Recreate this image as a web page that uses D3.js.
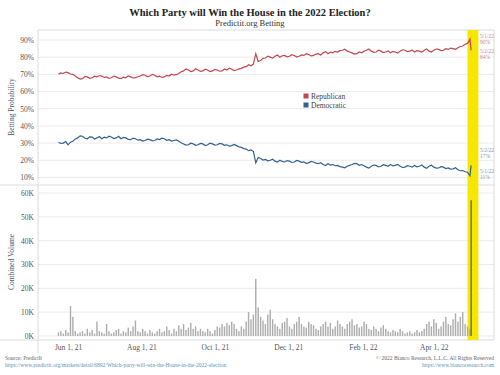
<!DOCTYPE html>
<html lang="en">
<head>
<meta charset="UTF-8">
<title>Which Party will Win the House in the 2022 Election?</title>
<script src="https://d3js.org/d3.v7.min.js"></script>
<style>
  body { margin: 0; background: #fff; }
  svg { display: block; font-family: "Liberation Serif", "DejaVu Serif", serif; }
  .grid line { stroke: #ececec; stroke-width: 1; }
  .frame line { stroke: #dcdcdc; stroke-width: 1; }
  .axis text { fill: #555; font-size: 7.5px; font-family: "Liberation Serif", serif; }
  .axis path, .axis line { display: none; }
  .note { font-size: 5.5px; }
</style>
</head>
<body>
<svg width="500" height="375"></svg>
<script>
// betting probabilities (%), every 2 days from 2021-05-24
const probStart = "2021-05-24";
const repProb = [70, 70.8, 70.5, 71.3, 71, 70.2, 70, 69, 68, 67.2,
  67.5, 68.8, 68.5, 67.7, 68, 68.9, 68.5, 69.3, 69, 68.2,
  68.5, 67.6, 68, 69, 68.5, 67.8, 67.5, 68.4, 68, 69.1,
  68.5, 67.9, 68, 68.6, 69, 69.8, 69.5, 68.7, 69, 70,
  69.5, 68.6, 69, 68.2, 68.5, 69.4, 69, 70.1, 69.5, 69.8,
  70.5, 71.5, 72, 73.1, 72.5, 71.6, 72, 73.2, 72.5, 71.7,
  72, 73, 72.5, 71.6, 72, 72.9, 72.5, 71.8, 72, 73.1,
  72.5, 73.6, 73, 72.2, 72.5, 73.2, 73.5, 74.2, 74.5, 75.6,
  75, 76, 82, 77.5, 78, 79.3, 79.5, 80.6, 80, 79.4,
  80.5, 81.2, 80, 80.8, 81, 80.2, 80.5, 81.4, 81, 80.1,
  80.5, 81.3, 81, 82, 81.5, 80.7, 81, 81.8, 82, 81.3,
  82.5, 83.2, 82, 82.9, 82.5, 83.4, 83, 83.8, 84, 84.6,
  83.5, 83, 82.5, 81.8, 82, 83, 82.5, 83.4, 84, 84.7,
  83.5, 82.8, 83, 84, 83.5, 82.7, 83, 83.6, 82.5, 83.4,
  83, 82.4, 83.5, 84.3, 84, 83.2, 83.5, 84.1, 83, 83.8,
  83.5, 82.9, 84, 84.8, 83.5, 83, 84, 84.7, 84.5, 83.8,
  84, 84.9, 84.5, 85.3, 85, 84.6, 85.5, 86.2, 86.5, 87.5,
  88];
const demProb = [30.5, 29.8, 30, 30.9, 29, 30.5, 31, 32.4, 33, 34.2,
  34, 32.8, 32.5, 33.6, 33.5, 32.4, 33, 33.8, 32.5, 33.4,
  33, 34, 33.5, 32.6, 33, 33.9, 32.5, 33.3, 33, 32.1,
  32, 32.9, 32.5, 31.7, 32, 31.2, 31.5, 32.3, 32, 31.3,
  31.5, 32.4, 32, 32.8, 32.5, 31.6, 32, 31.2, 31.5, 31.8,
  31, 30.2, 29.5, 28.8, 29, 29.9, 29.5, 28.7, 29, 29.8,
  29.5, 28.6, 29, 29.9, 29.5, 28.8, 29, 29.8, 29.5, 28.7,
  29, 28.2, 28.5, 29.2, 28.5, 27.8, 27.5, 26.8, 26.5, 25.6,
  26, 25.2, 18.5, 21.6, 21, 20.1, 20.5, 19.7, 20, 20.6,
  19.5, 18.9, 20, 19.3, 19, 19.8, 19.5, 18.7, 19, 19.9,
  19.5, 18.8, 19, 18.2, 18.5, 19.3, 19, 18.3, 18, 18.6,
  17.5, 16.9, 18, 17.2, 17.5, 16.8, 17, 16.3, 16, 15.6,
  16.5, 17, 17.5, 18.2, 18, 17.1, 17.5, 16.8, 16, 15.4,
  16.5, 17.2, 17, 16.1, 16.5, 17.4, 17, 16.5, 17.5, 16.7,
  17, 17.6, 16.5, 15.8, 16, 16.9, 16.5, 16, 17, 16.2,
  16.5, 17.2, 16, 15.3, 16.5, 17.1, 16, 15.4, 15.5, 16.3,
  16, 15.2, 15.5, 14.8, 15, 15.6, 14.5, 13.9, 14, 13.3,
  13];

// combined volume (thousands), every 2 days from 2021-05-24
const volStart = "2021-05-24";
const volume = [1.5, 2, 1, 2.5, 1.5, 12.6, 8, 2, 1, 1.5,
  2, 1, 3, 1.5, 2.5, 1, 6, 2, 1.5, 1,
  5, 2, 1, 1.5, 2.5, 3, 1, 2, 1.5, 3.5,
  2, 4, 6.5, 2, 1.5, 3, 2, 1, 2.5, 1.5,
  1, 2, 3, 1.5, 2, 4, 2.5, 1, 3, 2,
  4.5, 3, 5, 2.5, 3.5, 5.5, 3, 4, 2, 3,
  2, 1.5, 3, 2, 1, 2.5, 4, 3.5, 5, 4,
  5.5, 4.5, 6, 5, 3, 2, 4, 3, 6, 10,
  7, 9, 24, 12, 8, 6.5, 5, 9, 11, 7,
  5, 4, 3, 5.5, 6, 7.5, 4, 3, 5, 6,
  8, 5, 4, 3.5, 6, 5, 4.5, 3, 2.5, 4,
  5, 6, 4, 5.5, 3, 4, 6.5, 5, 4, 3,
  5, 6, 7, 4.5, 5, 3.5, 4, 6, 5, 3,
  2.5, 4, 3, 2, 3.5, 4.5, 3, 2, 1.5, 2.5,
  2, 1.5, 3, 2, 1, 1.5, 2, 1, 1.5, 2.5,
  1.5, 2, 3, 5, 6, 4, 7, 5.5, 3, 4,
  6, 8, 5, 4.5, 7, 9.5, 6, 8, 10, 5,
  4];

// last daily points
const endDates = ["2022-05-01", "2022-05-02"];
const endRep = [90.5, 84];
const endDem = [11, 17];
const endVolume = [3, 57];

const pctTicks = [10, 20, 30, 40, 50, 60, 70, 80, 90];
const volTicks = [0, 10, 20, 30, 40, 50, 60];
const dateTicks = ["2021-06-01", "2021-08-01", "2021-10-01", "2021-12-01", "2022-02-01", "2022-04-01"];
const bandDates = ["2022-04-29", "2022-05-08"];

const calloutDates = ["5/1/22", "5/2/22", "5/2/22", "5/1/22"];
const calloutValues = [90, 84, 17, 11];

const parse = d3.timeParse("%Y-%m-%d");
const svg = d3.select("svg");

const red = "#c0474d", blue = "#35618e";

const x = d3.scaleTime()
  .domain([parse("2021-05-07"), parse("2022-05-21")])
  .range([38, 494]);
const yP = d3.scaleLinear().domain([5.6, 95.8]).range([185, 30]);
const yV = d3.scaleLinear().domain([-1.7, 63.4]).range([340, 185]);

const p0 = parse(probStart), v0 = parse(volStart);
const repData = repProb.map((v, i) => ({ date: d3.timeDay.offset(p0, i * 2), v }))
  .concat(endDates.map((d, i) => ({ date: parse(d), v: endRep[i] })));
const demData = demProb.map((v, i) => ({ date: d3.timeDay.offset(p0, i * 2), v }))
  .concat(endDates.map((d, i) => ({ date: parse(d), v: endDem[i] })));
const volData = volume.map((v, i) => ({ date: d3.timeDay.offset(v0, i * 2), v }))
  .concat(endDates.map((d, i) => ({ date: parse(d), v: endVolume[i] })));

// gridlines
svg.append("g").attr("class", "grid")
  .selectAll("line").data(pctTicks).join("line")
  .attr("x1", 38).attr("x2", 494)
  .attr("y1", d => yP(d)).attr("y2", d => yP(d));
svg.append("g").attr("class", "grid")
  .selectAll("line").data(volTicks).join("line")
  .attr("x1", 38).attr("x2", 494)
  .attr("y1", d => yV(d)).attr("y2", d => yV(d));

// frame
const frame = svg.append("g").attr("class", "frame");
frame.append("line").attr("x1", 38).attr("x2", 494).attr("y1", 30).attr("y2", 30);
frame.append("line").attr("x1", 0).attr("x2", 494).attr("y1", 185).attr("y2", 185);
frame.append("line").attr("x1", 0).attr("x2", 494).attr("y1", 340).attr("y2", 340);
frame.append("line").attr("x1", 38).attr("x2", 38).attr("y1", 30).attr("y2", 353);
frame.append("line").attr("x1", 494).attr("x2", 494).attr("y1", 30).attr("y2", 340);

// highlight band
svg.append("rect")
  .attr("x", x(parse(bandDates[0])))
  .attr("width", x(parse(bandDates[1])) - x(parse(bandDates[0])))
  .attr("y", 30).attr("height", 310)
  .attr("fill", "#f7e600");

// volume bars
svg.append("g").selectAll("rect").data(volData).join("rect")
  .attr("x", d => x(d.date) - 0.7)
  .attr("width", 1.4)
  .attr("y", d => yV(d.v))
  .attr("height", d => yV(0) - yV(d.v))
  .attr("fill", d => d.v > 40 ? "#6b6b5a" : "#acacac");

// probability lines
const line = d3.line().x(d => x(d.date)).y(d => yP(d.v));
svg.append("path").datum(repData).attr("d", line)
  .attr("fill", "none").attr("stroke", red).attr("stroke-width", 1.2);
svg.append("path").datum(demData).attr("d", line)
  .attr("fill", "none").attr("stroke", blue).attr("stroke-width", 1.2);

// axes
svg.append("g").attr("class", "axis")
  .attr("transform", "translate(38,0)")
  .call(d3.axisLeft(yP).tickValues(pctTicks).tickFormat(d => d + "%").tickSize(0).tickPadding(4));
svg.append("g").attr("class", "axis")
  .attr("transform", "translate(38,0)")
  .call(d3.axisLeft(yV).tickValues(volTicks).tickFormat(d => d + "K").tickSize(0).tickPadding(4));
svg.append("g").attr("class", "axis")
  .attr("transform", "translate(0,340)")
  .call(d3.axisBottom(x).tickValues(dateTicks.map(parse)).tickFormat(d3.timeFormat("%b %-d, %y")).tickSize(0).tickPadding(5));

svg.append("text").attr("transform", "translate(14,107) rotate(-90)")
  .attr("text-anchor", "middle").attr("font-size", 7.5).attr("fill", "#555")
  .text("Betting Probability");
svg.append("text").attr("transform", "translate(14,262) rotate(-90)")
  .attr("text-anchor", "middle").attr("font-size", 7.5).attr("fill", "#555")
  .text("Combined Volume");

// callouts
const calloutOffsets = [[-1.5, 4.5], [3, 9], [-13, -7], [-3, 3]];
const calloutColors = ["#c9898c", "#c9898c", "#7f93ab", "#7f93ab"];
calloutValues.forEach((v, i) => {
  const g = svg.append("g").attr("class", "note").attr("fill", calloutColors[i]);
  g.append("text").attr("x", 480).attr("y", yP(v) + calloutOffsets[i][0]).text(calloutDates[i]);
  g.append("text").attr("x", 480).attr("y", yP(v) + calloutOffsets[i][1]).text(v + "%");
});

// legend
const legend = svg.append("g").selectAll("g")
  .data([{ name: "Republican", c: red }, { name: "Democratic", c: blue }])
  .join("g")
  .attr("transform", (d, i) => `translate(303.5,${93.5 + i * 9})`);
legend.append("rect").attr("width", 5).attr("height", 5).attr("fill", d => d.c);
legend.append("text").attr("x", 7.5).attr("y", 5).attr("font-size", 7.5).attr("fill", "#444").text(d => d.name);

// titles
svg.append("text").attr("x", 250).attr("y", 16).attr("text-anchor", "middle")
  .attr("font-size", 10.5).attr("font-weight", "bold").attr("fill", "#222")
  .text("Which Party will Win the House in the 2022 Election?");
svg.append("text").attr("x", 250).attr("y", 25.5).attr("text-anchor", "middle")
  .attr("font-size", 8.5).attr("fill", "#333")
  .text("Predictit.org Betting");

// footer
svg.append("text").attr("class", "note").attr("x", 5).attr("y", 360).attr("fill", "#666")
  .text("Source: PredictIt");
svg.append("text").attr("class", "note").attr("x", 5).attr("y", 366.5).attr("fill", "#5a93b5")
  .text("https://www.predictit.org/markets/detail/6892/Which-party-will-win-the-House-in-the-2022-election");
svg.append("text").attr("class", "note").attr("x", 494).attr("y", 360).attr("text-anchor", "end").attr("fill", "#666")
  .text("© 2022 Bianco Research, L.L.C. All Rights Reserved");
svg.append("text").attr("class", "note").attr("x", 494).attr("y", 366.5).attr("text-anchor", "end").attr("fill", "#5a93b5")
  .text("https://www.biancoresearch.com");
</script>
</body>
</html>
